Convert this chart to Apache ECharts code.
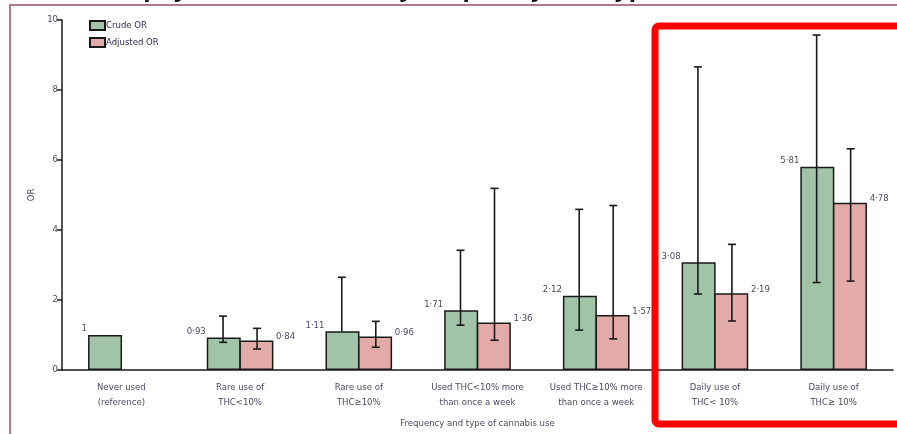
<!DOCTYPE html>
<html>
<head>
<meta charset="utf-8">
<script src="https://cdn.jsdelivr.net/npm/echarts@6/dist/echarts.min.js"></script>
<style>
  html, body { margin: 0; padding: 0; background: #fff; }
  #chart { width: 897px; height: 434px; }
</style>
</head>
<body>
<div id="chart"></div>
<script>
// categories on the x axis
const categories = [
  "Never used\n(reference)",
  "Rare use of\nTHC<10%",
  "Rare use of\nTHC≥10%",
  "Used THC<10% more\nthan once a week",
  "Used THC≥10% more\nthan once a week",
  "Daily use of\nTHC< 10%",
  "Daily use of\nTHC≥ 10%"
];

// odds ratios
const crudeOR = [1, 0.93, 1.11, 1.71, 2.12, 3.08, 5.81];
const adjustedOR = [null, 0.84, 0.96, 1.36, 1.57, 2.19, 4.78];

// 95% CI (lower end of crude rare THC>=10% is hidden)
const crudeLow = [null, 0.79, null, 1.28, 1.14, 2.17, 2.50];
const crudeHigh = [null, 1.54, 2.65, 3.42, 4.59, 8.66, 9.57];
const adjLow = [null, 0.60, 0.65, 0.85, 0.89, 1.40, 2.54];
const adjHigh = [null, 1.19, 1.39, 5.19, 4.70, 3.59, 6.32];

const yTicks = [0, 2, 4, 6, 8, 10];

const FONT = '"Liberation Sans Narrow", "DejaVu Sans Condensed", "Liberation Sans", sans-serif';
const TEXT = "#4b4b68";
const BAR_W = 34;

const chart = echarts.init(document.getElementById("chart"));

const fmt = (v) => String(v).replace(".", "·");

// error bar drawer, offset = shift from category centre
// value: [index, from, to, drawLowerCap]
const errorBars = (offset) => (params, api) => {
  const hiVal = api.value(2);
  if (hiVal == null || isNaN(hiVal)) return null;
  const lo = api.coord([api.value(0), api.value(1)]);
  const hi = api.coord([api.value(0), hiVal]);
  const x = lo[0] + offset;
  const style = { stroke: "#1a1a1a", lineWidth: 1.6 };
  const children = [
    { type: "line", shape: { x1: x, y1: lo[1], x2: x, y2: hi[1] }, style },
    { type: "line", shape: { x1: x - 4, y1: hi[1], x2: x + 4, y2: hi[1] }, style }
  ];
  if (api.value(3)) {
    children.push({ type: "line", shape: { x1: x - 4, y1: lo[1], x2: x + 4, y2: lo[1] }, style });
  }
  return { type: "group", children };
};

const ciData = (values, low, high) =>
  categories.map((c, i) => [
    i,
    low[i] == null ? values[i] : low[i],
    high[i],
    low[i] == null ? 0 : 1
  ]);

const option = {
  animation: false,
  textStyle: { fontFamily: FONT },
  grid: { left: 62, right: 4, top: 20, bottom: 63 },
  legend: {
    orient: "vertical",
    left: 84,
    top: 15,
    icon: "rect",
    itemWidth: 15,
    itemHeight: 9,
    itemGap: 6,
    textStyle: { fontSize: 9.5, color: "#2e2e5c", fontFamily: FONT, padding: [0, 0, 0, -4] },
    data: ["Crude OR", "Adjusted OR"]
  },
  graphic: [
    {
      // heading of the page above, mostly cut off by the crop
      type: "text",
      x: 40,
      y: 3,
      style: {
        text: "Odds of psychotic disorder by frequency and type",
        font: "italic bold 26px 'Liberation Sans', sans-serif",
        fill: "#111",
        verticalAlign: "bottom"
      }
    },
    {
      type: "rect",
      shape: { x: 10, y: 5, width: 950, height: 500 },
      style: { fill: "none", stroke: "#b5778f", lineWidth: 2 }
    },
    {
      type: "rect",
      z: 100,
      shape: { x: 655, y: 26, width: 320, height: 398, r: 4 },
      style: { fill: "none", stroke: "#ff0000", lineWidth: 7 }
    }
  ],
  xAxis: {
    type: "category",
    data: categories,
    name: "Frequency and type of cannabis use",
    nameLocation: "middle",
    nameGap: 49,
    nameTextStyle: { fontSize: 9.5, color: TEXT },
    axisLine: { lineStyle: { color: "#1a1a1a", width: 1.5 } },
    axisTick: { length: 6, lineStyle: { color: "#1a1a1a", width: 1.5 } },
    axisLabel: { fontSize: 9.5, color: TEXT, lineHeight: 15, margin: 10, interval: 0 }
  },
  yAxis: {
    type: "value",
    min: 0,
    max: 10,
    interval: 2,
    name: "OR",
    nameLocation: "middle",
    nameGap: 24,
    nameRotate: 90,
    nameTextStyle: { fontSize: 9.5, color: TEXT },
    splitLine: { show: false },
    axisLine: { show: true, lineStyle: { color: "#1a1a1a", width: 1.5 } },
    axisTick: { show: true, length: 5, lineStyle: { color: "#1a1a1a", width: 1.5 } },
    axisLabel: {
      fontSize: 9.5,
      color: TEXT,
      margin: 4,
      formatter: (v) => (yTicks.includes(v) ? String(v) : "")
    }
  },
  series: [
    {
      name: "Crude OR",
      type: "bar",
      data: crudeOR,
      barWidth: BAR_W,
      barGap: "-4%",
      itemStyle: { color: "#a1c3a7", borderColor: "#1a1a1a", borderWidth: 1.5 },
      label: {
        show: true,
        position: [-1, -6],
        align: "right",
        verticalAlign: "middle",
        fontSize: 9.5,
        color: TEXT,
        formatter: (p) => fmt(p.value)
      }
    },
    {
      name: "Adjusted OR",
      type: "bar",
      data: adjustedOR,
      barWidth: BAR_W,
      barGap: "-4%",
      itemStyle: { color: "#e3aba7", borderColor: "#1a1a1a", borderWidth: 1.5 },
      label: {
        show: true,
        position: ["100%", -4],
        align: "left",
        verticalAlign: "middle",
        fontSize: 9.5,
        color: TEXT,
        formatter: (p) => " " + fmt(p.value)
      }
    },
    {
      type: "custom",
      z: 10,
      renderItem: errorBars(-BAR_W / 2),
      encode: { x: 0, y: [1, 2] },
      data: ciData(crudeOR, crudeLow, crudeHigh)
    },
    {
      type: "custom",
      z: 10,
      renderItem: errorBars(BAR_W / 2),
      encode: { x: 0, y: [1, 2] },
      data: ciData(adjustedOR, adjLow, adjHigh)
    }
  ]
};

chart.setOption(option);

window.addEventListener("resize", () => {
  chart.resize();
});
</script>
</body>
</html>
